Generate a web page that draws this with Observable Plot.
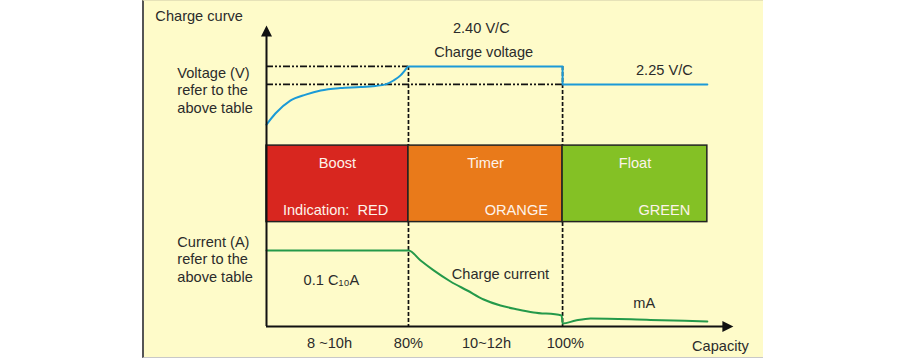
<!DOCTYPE html>
<html><head><meta charset="utf-8">
<script src="https://cdn.jsdelivr.net/npm/d3@7"></script>
<script src="https://cdn.jsdelivr.net/npm/@observablehq/plot@0.6"></script>
<style>
html,body{margin:0;padding:0;background:#fff;}
#wrap{position:relative;width:900px;height:360px;}
#panel{position:absolute;left:142px;top:0;width:619px;height:356px;background:#fefbc9;border-left:2px solid #555;border-top:1px solid #e6e2b8;border-bottom:1px solid #c8c8c8;}
#chart{position:absolute;left:0;top:0;}
</style></head>
<body><div id="wrap"><div id="panel"></div><div id="chart"></div></div>
<script>
// phases of the charge cycle (x in % of axis length)
const phases = ["Boost", "Timer", "Float"];
const phaseStart = [0, 30.4, 63.4];
const phaseEnd = [30.4, 63.4, 94.4];
const phaseColors = ["#d8261f", "#e97a1a", "#84c125"];
const indication = ["Indication:  RED", "ORANGE", "GREEN"];
const indicationX = [14.8, 53.5, 85.2];
const bandBottom = 34.8, bandTop = 60.3;

// voltage levels (schematic units)
const chargeLevel = 86.7;  // 2.40 V/C
const floatLevel = 80.7;   // 2.25 V/C

// voltage curve
const voltageX = [0, 1.9, 5.1, 8.4, 11.6, 15.8, 20.1, 23.3, 25.5, 27.2, 28.7, 29.6, 30.4, 63.4, 63.4, 94.4];
const voltageY = [67.3, 71, 75.3, 77.3, 78.7, 79.5, 79.8, 80.2, 80.7, 82, 83.7, 85.3, 86.7, 86.7, 80.7, 80.7];

// current curve
const currentX = [0, 30.4, 33.0, 35.8, 39.4, 43.0, 46.5, 50.1, 53.8, 57.2, 63.2, 63.4, 66.2, 69.4, 82.2, 94.4];
const currentY = [25.3, 25.3, 22, 18.7, 15, 12, 9, 7, 5.7, 4.7, 3.7, 1, 2, 2.7, 2.2, 1.7];

// bottom tick labels
const tickPos = [13.5, 30.4, 47.1, 64.0];
const tickLabels = ["8 ~10h", "80%", "10~12h", "100%"];

const ink = "#2b2b2b";
const band = phases.map((p, i) => ({phase: p, x1: phaseStart[i], x2: phaseEnd[i], color: phaseColors[i], ind: indication[i], ix: indicationX[i]}));
const voltage = voltageX.map((x, i) => ({x, y: voltageY[i]}));
const current = currentX.map((x, i) => ({x, y: currentY[i]}));

const triUp = {draw(c, size) { const s = Math.sqrt(size) * 0.62; c.moveTo(0, -s); c.lineTo(s, s); c.lineTo(-s, s); c.closePath(); }};
const triRight = {draw(c, size) { const s = Math.sqrt(size) * 0.62; c.moveTo(s, 0); c.lineTo(-s, s); c.lineTo(-s, -s); c.closePath(); }};

const FS = 14.6;
const font = {fontFamily: "Liberation Sans, Arial, sans-serif", fontSize: FS, fill: ink, lineAnchor: "bottom"};

const chart = Plot.plot({
  width: 900, height: 360,
  marginLeft: 266, marginRight: 167, marginTop: 26, marginBottom: 34,
  x: {domain: [0, 100]},
  y: {domain: [0, 100], axis: null},
  style: {background: "transparent", color: ink, fontFamily: "Liberation Sans, Arial, sans-serif"},
  marks: [
    // dashed guides
    Plot.ruleX([phaseEnd[0], phaseEnd[1]], {y1: chargeLevel, y2: 0, stroke: "#111", strokeWidth: 1.7, strokeDasharray: "4,2"}),
    Plot.ruleY([chargeLevel], {x1: 0, x2: phaseEnd[0], stroke: "#111", strokeWidth: 1.7, strokeDasharray: "7,2,2,2,2,2"}),
    Plot.ruleY([floatLevel], {x1: 0, x2: phaseEnd[1], stroke: "#111", strokeWidth: 1.7, strokeDasharray: "7,2,2,2,2,2"}),
    // phase band
    Plot.rect(band, {x1: "x1", x2: "x2", y1: bandBottom, y2: bandTop, fill: "color", stroke: "#222", strokeWidth: 1.5}),
    Plot.text(band, {x: d => (d.x1 + d.x2) / 2, y: 52.7, text: "phase", ...font, fill: "#fdf3ea"}),
    Plot.text(band, {x: "ix", y: 37.3, text: "ind", ...font, fill: "#fdf3ea"}),
    // curves
    Plot.line(voltage, {x: "x", y: "y", stroke: "#1b9ad7", strokeWidth: 2, curve: "monotone-x"}),
    Plot.line(current, {x: "x", y: "y", stroke: "#24994a", strokeWidth: 2, curve: "monotone-x"}),
    // axes
    Plot.ruleX([0], {y1: 0, y2: 97, stroke: "#111", strokeWidth: 2}),
    Plot.ruleY([0], {x1: 0, x2: 98, stroke: "#111", strokeWidth: 2}),
    Plot.dot([0], {x: 0, y: 98.5, symbol: triUp, r: 5, fill: "#111", stroke: null}),
    Plot.dot([0], {x: 98.8, y: 0, symbol: triRight, r: 5, fill: "#111", stroke: null}),
    Plot.axisX({ticks: tickPos, tickFormat: d => tickLabels[tickPos.indexOf(d)], tickSize: 0, tickPadding: 11, fontSize: FS, label: null}),
    // annotations
    Plot.text(["Charge curve"], {x: -23.8, y: 102, text: d => d, textAnchor: "start", ...font}),
    Plot.text(["Voltage (V)\nrefer to the\nabove table"], {x: -19.1, y: 71.3, text: d => d, textAnchor: "start", lineHeight: 1.18, ...font}),
    Plot.text(["Current (A)\nrefer to the\nabove table"], {x: -19.1, y: 15, text: d => d, textAnchor: "start", lineHeight: 1.18, ...font}),
    Plot.text(["2.40 V/C"], {x: 46.0, y: 98, text: d => d, ...font}),
    Plot.text(["Charge voltage"], {x: 46.5, y: 90, text: d => d, ...font}),
    Plot.text(["2.25 V/C"], {x: 85.2, y: 84, text: d => d, ...font}),
    Plot.text(["0.1 C₁₀A"], {x: 13.9, y: 14, text: d => d, ...font}),
    Plot.text(["Charge current"], {x: 50.1, y: 15.7, text: d => d, ...font}),
    Plot.text(["mA"], {x: 80.9, y: 6.3, text: d => d, ...font}),
    Plot.text(["Capacity"], {x: 97.2, y: -8, text: d => d, ...font})
  ]
});
document.getElementById("chart").append(chart);
</script>
</body></html>
